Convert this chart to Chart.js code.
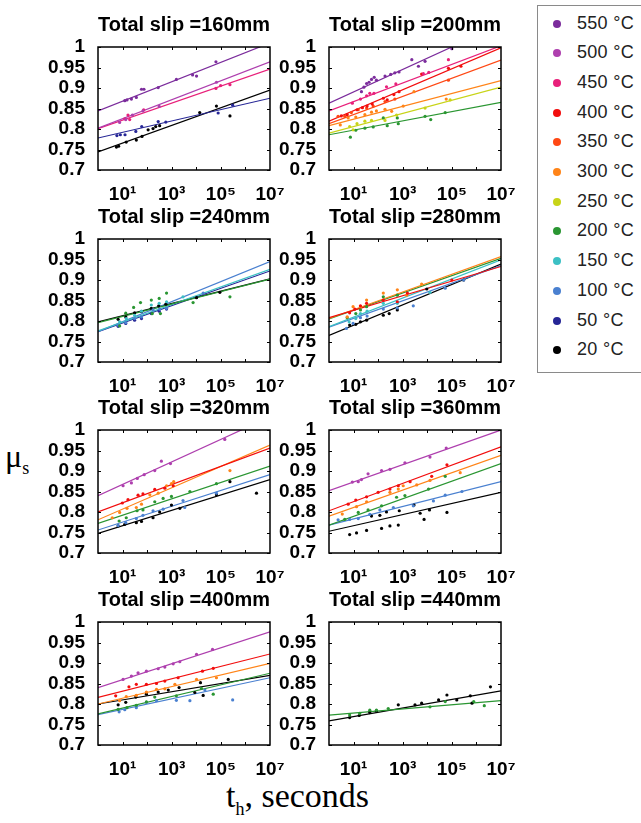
<!DOCTYPE html>
<html>
<head>
<meta charset="utf-8">
<script src="https://cdn.jsdelivr.net/npm/chart.js@4.4.1/dist/chart.umd.min.js"></script>
<style>
  body { margin: 0; background: #fff; width: 641px; height: 823px; overflow: hidden; position: relative; }
  .panel { position: absolute; }
  #legend { position: absolute; left: 537px; top: 5px; width: 110px; height: 368px; border: 1.5px solid #8a8a8a; box-sizing: border-box; }
  .item { position: absolute; left: 0; font: 18px 'Liberation Sans', Arial, sans-serif; letter-spacing: 0.3px; color: #222; }
  .dot { position: absolute; width: 8px; height: 8px; border-radius: 50%; }
  #ylab { position: absolute; left: 5px; top: 438px; font: 32px 'Liberation Serif', 'Times New Roman', serif; }
  #xlab { position: absolute; left: 226px; top: 777px; font: 34px 'Liberation Serif', 'Times New Roman', serif; }
  sub { font-size: 18px; }
</style>
</head>
<body>
<div id="legend"></div>
<div id="ylab">μ<sub>s</sub></div>
<div id="xlab">t<sub>h</sub>, seconds</div>
<script>
// categories
const slips = [160, 200, 240, 280, 320, 360, 400, 440];
const temps = [550, 500, 450, 400, 350, 300, 250, 200, 150, 100, 50, 20];

// axes
const xTickValues = [10, 1e3, 1e5, 1e7];
const xTickLabels = ['10¹', '10³', '10⁵', '10⁷'];
const yTickValues = [0.7, 0.75, 0.8, 0.85, 0.9, 0.95, 1];
const fitT = [1, 1e7]; // fit lines are given by mu at these two times

// measured points: [log10(t_h), mu_s]
const pts160 = {
  550: [[1.09,0.869],[1.18,0.871],[1.36,0.873],[1.56,0.877],[1.77,0.897],[1.87,0.897],[2.45,0.901],[3.19,0.921],[3.85,0.932],[4.01,0.929],[4.80,0.964]],
  500: [[0.88,0.816],[1.13,0.823],[1.40,0.834],[1.83,0.844],[2.49,0.855],[4.82,0.914]],
  450: [[1.09,0.825],[1.22,0.834],[1.29,0.823],[1.86,0.847],[4.80,0.899],[4.99,0.906],[5.37,0.908]],
  50: [[0.77,0.784],[0.91,0.786],[1.10,0.786],[1.54,0.794],[1.78,0.806],[2.45,0.818],[2.76,0.817],[4.89,0.839],[5.48,0.858]],
  20: [[0.75,0.756],[0.84,0.758],[1.15,0.768],[1.56,0.773],[1.79,0.782],[2.04,0.798],[2.24,0.801],[2.35,0.806],[2.51,0.808],[4.14,0.840],[4.82,0.856],[5.37,0.832]]
};
const fit160 = { 550: [0.844, 1.010], 500: [0.802, 0.964], 450: [0.801, 0.946], 50: [0.778, 0.875], 20: [0.744, 0.895] };

const pts200 = {
  550: [[1.32,0.891],[1.42,0.902],[1.53,0.911],[1.63,0.914],[1.73,0.921],[1.84,0.926],[1.93,0.919],[2.28,0.929],[2.51,0.933],[2.68,0.937],[2.85,0.939],[3.37,0.969],[3.64,0.953],[3.91,0.965],[5.00,0.996]],
  450: [[0.95,0.863],[1.28,0.873],[1.53,0.881],[1.66,0.887],[1.83,0.887],[2.34,0.903],[2.72,0.910],[3.84,0.935],[4.06,0.938],[4.86,0.969]],
  400: [[0.50,0.832],[0.74,0.835],[1.14,0.847],[1.36,0.852],[1.55,0.856],[1.76,0.861],[2.21,0.875],[2.37,0.871],[2.64,0.884],[2.85,0.891],[3.77,0.934],[4.86,0.948],[5.37,0.953]],
  350: [[0.37,0.831],[0.64,0.831],[0.91,0.840],[1.19,0.847],[1.53,0.851],[1.80,0.856],[2.28,0.867],[2.68,0.873],[4.86,0.919]],
  300: [[0.46,0.810],[0.78,0.827],[1.09,0.829],[1.46,0.835],[1.73,0.841],[1.93,0.844],[2.28,0.848],[2.55,0.843],[3.02,0.856],[3.46,0.891],[4.77,0.873]],
  250: [[0.84,0.806],[0.98,0.798],[1.14,0.813],[1.46,0.819],[1.73,0.821],[2.28,0.821],[2.75,0.834],[3.91,0.851],[4.93,0.871]],
  200: [[0.87,0.780],[1.09,0.797],[1.46,0.802],[1.80,0.805],[2.21,0.827],[2.37,0.808],[2.78,0.827],[2.82,0.813],[3.91,0.831],[4.14,0.823],[4.73,0.840]]
};
const fit200 = { 550: [0.863, 1.055], 450: [0.844, 1.003], 400: [0.819, 0.998], 350: [0.813, 0.968], 300: [0.808, 0.918], 250: [0.790, 0.902], 200: [0.786, 0.865] };

const pts240 = {
  200: [[0.88,0.788],[1.13,0.819],[1.45,0.833],[1.73,0.845],[2.17,0.851],[2.49,0.855],[2.79,0.868],[2.21,0.818],[2.54,0.818],[3.87,0.845],[5.37,0.859]],
  150: [[0.88,0.798],[1.15,0.806],[1.49,0.814],[1.77,0.824],[2.17,0.839],[2.49,0.843],[2.79,0.847],[3.46,0.859]],
  100: [[0.82,0.790],[1.13,0.796],[1.49,0.806],[1.77,0.810],[2.24,0.827],[2.51,0.829],[2.79,0.831],[4.28,0.868]],
  50: [[0.82,0.787],[1.13,0.794],[1.49,0.802],[1.77,0.806],[2.17,0.818],[2.49,0.824],[2.79,0.829]],
  20: [[0.82,0.804],[1.13,0.810],[1.49,0.820],[1.77,0.823],[2.17,0.831],[2.47,0.837],[2.76,0.841],[4.01,0.857],[4.96,0.870]]
};
const fit240 = { 200: [0.796, 0.902], 150: [0.776, 0.926], 100: [0.774, 0.945], 50: [0.774, 0.922], 20: [0.798, 0.903] };

const pts280 = {
  400: [[0.84,0.820],[1.05,0.829],[1.28,0.837],[1.53,0.843],[2.21,0.851],[2.78,0.847],[3.19,0.868],[5.00,0.900]],
  300: [[0.74,0.810],[0.98,0.835],[1.28,0.835],[1.53,0.851],[2.21,0.868],[2.78,0.876],[3.16,0.863],[3.77,0.890]],
  200: [[0.74,0.808],[1.09,0.818],[1.28,0.827],[1.53,0.835],[2.21,0.859],[2.78,0.863]],
  150: [[0.82,0.798],[1.09,0.806],[1.28,0.818],[1.55,0.824],[2.21,0.843],[2.78,0.843],[4.11,0.870]],
  100: [[0.71,0.782],[0.98,0.794],[1.28,0.808],[1.55,0.812],[2.21,0.829],[2.78,0.832],[3.43,0.837],[4.73,0.880],[5.48,0.900]],
  20: [[0.84,0.790],[1.09,0.792],[1.28,0.798],[1.53,0.802],[2.21,0.814],[2.45,0.818],[2.78,0.827],[3.98,0.878],[5.48,0.900]]
};
const fit280 = { 400: [0.808, 0.933], 300: [0.806, 0.957], 200: [0.805, 0.953], 150: [0.786, 0.949], 100: [0.785, 0.935], 20: [0.765, 0.939] };

const pts320 = {
  500: [[1.02,0.864],[1.36,0.871],[1.60,0.882],[1.88,0.891],[2.31,0.901],[2.58,0.924],[2.95,0.918],[5.16,0.977]],
  400: [[0.99,0.822],[1.22,0.830],[1.63,0.841],[1.83,0.844],[2.31,0.855],[2.72,0.858],[3.06,0.864]],
  300: [[0.58,0.786],[0.88,0.799],[1.18,0.809],[1.56,0.811],[1.77,0.819],[2.11,0.842],[2.45,0.846],[2.79,0.864],[2.99,0.869],[3.08,0.874],[5.37,0.901]],
  200: [[0.86,0.778],[1.15,0.786],[1.59,0.803],[1.83,0.805],[2.31,0.825],[2.65,0.833],[2.99,0.838],[3.74,0.850],[4.82,0.869]],
  100: [[0.82,0.767],[1.13,0.774],[1.56,0.784],[1.83,0.792],[2.24,0.803],[2.65,0.807],[3.46,0.828],[3.53,0.811],[4.82,0.846]],
  20: [[0.82,0.766],[1.09,0.770],[1.56,0.774],[1.77,0.777],[2.24,0.786],[2.51,0.800],[2.99,0.817],[3.33,0.809],[4.82,0.842],[5.37,0.874],[6.45,0.846]]
};
const fit320 = { 500: [0.840, 1.032], 400: [0.800, 0.956], 300: [0.781, 0.963], 200: [0.772, 0.912], 100: [0.756, 0.891], 20: [0.748, 0.879] };

const pts360 = {
  500: [[0.95,0.873],[1.19,0.874],[1.32,0.879],[1.59,0.893],[2.14,0.901],[2.48,0.904],[3.09,0.920],[4.11,0.934],[4.77,0.956]],
  400: [[0.78,0.819],[1.09,0.829],[1.53,0.837],[2.00,0.848],[2.48,0.856],[2.82,0.864],[3.30,0.874],[4.18,0.887],[4.80,0.915]],
  300: [[0.54,0.795],[1.12,0.813],[1.53,0.825],[2.48,0.848],[2.82,0.856],[3.02,0.864],[3.57,0.866],[4.11,0.877],[5.34,0.896]],
  200: [[0.64,0.782],[1.19,0.799],[1.59,0.805],[2.14,0.815],[2.75,0.836],[3.09,0.840],[4.05,0.856],[4.73,0.887]],
  100: [[0.37,0.781],[0.84,0.782],[1.19,0.784],[1.66,0.794],[2.07,0.805],[2.62,0.811],[3.43,0.815],[4.25,0.827],[4.73,0.841],[5.41,0.850]],
  20: [[0.84,0.745],[1.12,0.749],[1.53,0.755],[2.14,0.760],[2.48,0.766],[2.82,0.768],[1.73,0.790],[2.07,0.792],[2.34,0.800],[2.86,0.803],[3.46,0.817],[3.71,0.797],[3.87,0.782],[4.09,0.805],[4.80,0.799]]
};
const fit360 = { 500: [0.852, 1.000], 400: [0.803, 0.959], 300: [0.790, 0.938], 200: [0.768, 0.918], 100: [0.768, 0.874], 20: [0.753, 0.848] };

const pts400 = {
  500: [[1.02,0.860],[1.36,0.868],[1.63,0.876],[1.97,0.880],[2.45,0.886],[2.72,0.890],[3.06,0.898],[3.33,0.903],[4.01,0.921],[4.66,0.933]],
  400: [[0.72,0.820],[1.26,0.842],[1.56,0.848],[1.97,0.848],[2.38,0.850],[2.72,0.856],[3.26,0.864],[4.25,0.880],[4.69,0.887]],
  300: [[0.88,0.808],[1.15,0.818],[1.56,0.821],[1.97,0.829],[2.38,0.836],[2.72,0.837],[3.13,0.848],[4.01,0.860],[4.82,0.864]],
  200: [[0.82,0.787],[1.18,0.791],[1.56,0.797],[1.97,0.805],[2.31,0.817],[3.19,0.820],[4.21,0.838],[4.69,0.824]],
  100: [[0.86,0.781],[1.09,0.786],[1.56,0.791],[1.97,0.804],[2.38,0.808],[3.19,0.809],[3.74,0.808],[4.35,0.834],[5.48,0.810]],
  20: [[0.82,0.798],[1.13,0.804],[1.54,0.817],[1.97,0.824],[2.45,0.829],[2.86,0.834],[3.30,0.840],[3.94,0.828],[4.17,0.852],[4.28,0.821],[5.30,0.860]]
};
const fit400 = { 500: [0.840, 0.976], 400: [0.816, 0.922], 300: [0.800, 0.899], 200: [0.776, 0.875], 100: [0.774, 0.864], 20: [0.800, 0.870] };

const pts440 = {
  200: [[0.84,0.773],[1.25,0.777],[1.66,0.785],[1.93,0.785],[2.41,0.789],[4.11,0.793],[4.73,0.806],[5.89,0.806],[6.32,0.796]],
  20: [[0.84,0.767],[1.23,0.772],[1.66,0.779],[1.93,0.783],[2.82,0.798],[3.50,0.798],[3.77,0.802],[4.46,0.810],[4.80,0.822],[5.20,0.810],[5.75,0.820],[5.82,0.802],[6.57,0.842]]
};
const fit440 = { 200: [0.773, 0.808], 20: [0.759, 0.832] };

const allPts = [pts160, pts200, pts240, pts280, pts320, pts360, pts400, pts440];
const allFits = [fit160, fit200, fit240, fit280, fit320, fit360, fit400, fit440];

// styling
const tempColors = {
  550: '#7b2c9c', 500: '#ae3fae', 450: '#e8207a', 400: '#f20d0d', 350: '#ff4814', 300: '#ff8418',
  250: '#c8d418', 200: '#2a9632', 150: '#3cc0c4', 100: '#4a80d0', 50: '#262696', 20: '#000000'
};
const plotLeft = [98, 329];
const plotTop = [47, 239, 430, 622];
const plotW = 172, plotH = 123;
const yAxisW = 60, titleH = 45, xAxisH = 32, padRight = 24;
const sansBold = { family: "'Liberation Sans', Arial, sans-serif", size: 19, weight: 'bold' };

// legend
const legend = document.getElementById('legend');
temps.forEach((t, i) => {
  const y = 17.5 + i * 29.7;
  const dot = document.createElement('div');
  dot.className = 'dot';
  dot.style.left = '15px';
  dot.style.top = (y - 4) + 'px';
  dot.style.background = tempColors[t];
  legend.appendChild(dot);
  const txt = document.createElement('div');
  txt.className = 'item';
  txt.style.left = '39px';
  txt.style.top = (y - 11) + 'px';
  txt.textContent = t + ' °C';
  legend.appendChild(txt);
});

// box + inward ticks, MATLAB style
const framePlugin = {
  id: 'frame',
  afterDraw(chart) {
    const { ctx, chartArea: a, scales: { x, y } } = chart;
    ctx.save();
    ctx.strokeStyle = '#000';
    ctx.lineWidth = 1;
    ctx.beginPath();
    yTickValues.forEach(v => {
      const py = Math.round(y.getPixelForValue(v)) + 0.5;
      ctx.moveTo(a.left, py); ctx.lineTo(a.left + 3, py);
      ctx.moveTo(a.right, py); ctx.lineTo(a.right - 3, py);
    });
    for (let k = 1; k < 7; k++) {
      const px = Math.round(x.getPixelForValue(Math.pow(10, k))) + 0.5;
      ctx.moveTo(px, a.bottom); ctx.lineTo(px, a.bottom - 3);
      ctx.moveTo(px, a.top); ctx.lineTo(px, a.top + 3);
    }
    ctx.stroke();
    ctx.lineWidth = 1.5;
    ctx.strokeRect(a.left, a.top, a.width, a.height);
    ctx.restore();
  }
};

function makePanel(i) {
  const col = i % 2, row = Math.floor(i / 2);
  const pts = allPts[i], fit = allFits[i];
  const div = document.createElement('div');
  div.className = 'panel';
  div.style.left = (plotLeft[col] - yAxisW) + 'px';
  div.style.top = (plotTop[row] - titleH) + 'px';
  const cv = document.createElement('canvas');
  cv.width = yAxisW + plotW + padRight;
  cv.height = titleH + plotH + xAxisH;
  div.appendChild(cv);
  document.body.appendChild(div);

  const datasets = [];
  temps.forEach(t => {
    if (!pts[t]) return;
    datasets.push({
      data: pts[t].map(p => ({ x: Math.pow(10, p[0]), y: p[1] })),
      backgroundColor: tempColors[t], borderWidth: 0, pointRadius: 1.6, showLine: false
    });
  });
  temps.forEach(t => {
    if (!fit[t]) return;
    datasets.push({
      data: fitT.map((tt, k) => ({ x: tt, y: fit[t][k] })),
      borderColor: tempColors[t], borderWidth: 1.2, pointRadius: 0, showLine: true
    });
  });

  new Chart(cv, {
    type: 'scatter',
    data: { datasets },
    plugins: [framePlugin],
    options: {
      responsive: false,
      animation: false,
      layout: { padding: { left: 0, right: padRight, top: 0, bottom: 0 } },
      plugins: {
        legend: { display: false },
        tooltip: { enabled: false },
        title: {
          display: true, fullSize: false,
          text: 'Total slip =' + slips[i] + 'mm',
          color: '#000',
          font: { family: sansBold.family, size: 20, weight: 'bold', lineHeight: 1 },
          padding: { top: 13, bottom: 12 }
        }
      },
      scales: {
        x: {
          type: 'logarithmic', min: 1, max: 1e7,
          grid: { display: false }, border: { display: false },
          afterBuildTicks: s => { s.ticks = xTickValues.map(v => ({ value: v })); },
          afterFit: s => { s.height = xAxisH; },
          ticks: {
            autoSkip: false, maxRotation: 0, padding: 5, color: '#000', font: sansBold,
            callback: v => { const k = xTickValues.indexOf(v); return k < 0 ? '' : xTickLabels[k]; }
          }
        },
        y: {
          min: 0.7, max: 1,
          grid: { display: false }, border: { display: false },
          afterBuildTicks: s => { s.ticks = yTickValues.map(v => ({ value: v })); },
          afterFit: s => { s.width = yAxisW; },
          ticks: { autoSkip: false, padding: 5, color: '#000', font: sansBold, callback: v => String(+v.toFixed(2)) }
        }
      }
    }
  });
}

slips.forEach((s, i) => makePanel(i));
</script>
</body>
</html>
